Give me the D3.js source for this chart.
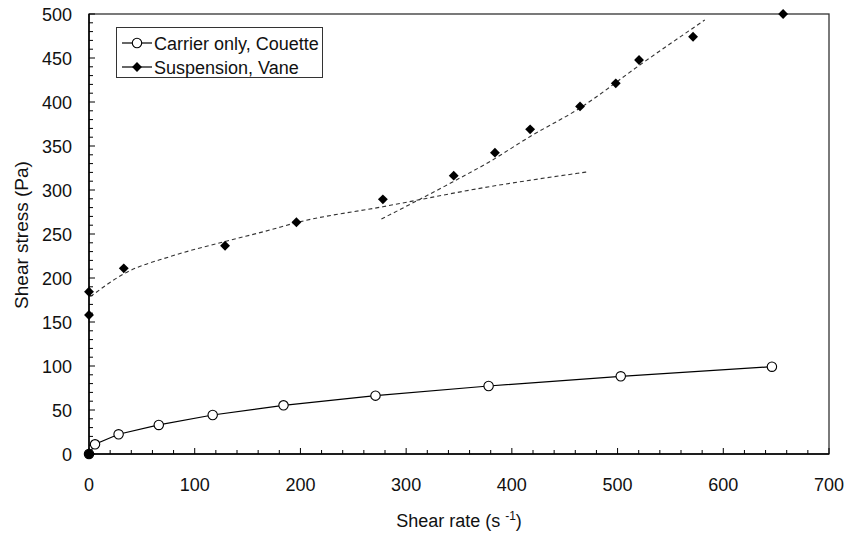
<!DOCTYPE html>
<html>
<head>
<meta charset="utf-8">
<script src="https://cdn.jsdelivr.net/npm/d3@7"></script>
<style>
  body { margin: 0; background: #fff; }
  svg { display: block; font-family: 'Liberation Sans', Arial, sans-serif; }
</style>
</head>
<body>
<div id="chart"></div>
<script>
// values
const carrierRate = [0, 5.7, 28, 66, 117, 184, 271, 378, 503, 646];
const carrierStress = [0, 11, 22.4, 33, 44.3, 55.3, 66.3, 77.3, 88.3, 99.2];

const vaneRate = [0, 0, 0, 32.9, 128.7, 196.2, 278, 345, 384, 417.3, 464.5, 498.3, 520.3, 571.4, 656.6];
const vaneStress = [0, 158, 184.4, 211, 236.7, 263.3, 289.4, 316.3, 342.4, 368.9, 395, 421.2, 447.7, 474.2, 500];

// dashed fitted curves
const lowFitRate = [1.3, 33.8, 76.3, 128.4, 171, 196.2, 278, 379, 473];
const lowFitStress = [178.8, 205.3, 224.2, 241.3, 254.5, 262.9, 281, 303.8, 320.8];
const highFitRate = [276.6, 344.4, 379, 417, 464, 521, 582.5];
const highFitStress = [267, 309.4, 332.2, 360.6, 392.8, 442, 493.2];

const xTicks = [0, 100, 200, 300, 400, 500, 600, 700];
const yTicks = [0, 50, 100, 150, 200, 250, 300, 350, 400, 450, 500];
const legendLabels = ['Carrier only, Couette', 'Suspension, Vane'];

const width = 847,
  height = 537;
const margin = { top: 14, right: 18, bottom: 83, left: 89 };
const fontSize = 18;

const svg = d3
  .select('#chart')
  .append('svg')
  .attr('width', width)
  .attr('height', height);

const x = d3.scaleLinear().domain([0, 700]).range([margin.left, width - margin.right]);
const y = d3.scaleLinear().domain([0, 500]).range([height - margin.bottom, margin.top]);

// plot frame
svg
  .append('rect')
  .attr('x', x(0))
  .attr('y', y(500))
  .attr('width', x(700) - x(0))
  .attr('height', y(0) - y(500))
  .attr('fill', 'none')
  .attr('stroke', '#333')
  .attr('stroke-width', 1.3);

// minor + major ticks pointing inward
const xMinor = d3.range(0, 701, 20);
const yMinor = d3.range(0, 501, 10);

svg
  .append('g')
  .attr('stroke', '#000')
  .selectAll('line')
  .data(xMinor)
  .join('line')
  .attr('x1', (d) => x(d))
  .attr('x2', (d) => x(d))
  .attr('y1', y(0))
  .attr('y2', (d) => y(0) - (d % 100 === 0 ? 6 : 4));

svg
  .append('g')
  .attr('stroke', '#000')
  .selectAll('line')
  .data(yMinor)
  .join('line')
  .attr('x1', x(0))
  .attr('x2', (d) => x(0) + (d % 50 === 0 ? 6 : 4))
  .attr('y1', (d) => y(d))
  .attr('y2', (d) => y(d));

// axis lines
svg
  .append('line')
  .attr('x1', x(0))
  .attr('x2', x(700))
  .attr('y1', y(0))
  .attr('y2', y(0))
  .attr('stroke', '#000')
  .attr('stroke-width', 1.5);
svg
  .append('line')
  .attr('x1', x(0))
  .attr('x2', x(0))
  .attr('y1', y(0))
  .attr('y2', y(500))
  .attr('stroke', '#000')
  .attr('stroke-width', 1.5);

// tick labels
svg
  .append('g')
  .selectAll('text')
  .data(xTicks)
  .join('text')
  .attr('x', (d) => x(d))
  .attr('y', 491)
  .attr('text-anchor', 'middle')
  .attr('font-size', fontSize)
  .attr('fill', '#111')
  .text((d) => d);

svg
  .append('g')
  .selectAll('text')
  .data(yTicks)
  .join('text')
  .attr('x', 72)
  .attr('y', (d) => y(d) + 6.5)
  .attr('text-anchor', 'end')
  .attr('font-size', fontSize)
  .attr('fill', '#111')
  .text((d) => d);

// axis titles
const xTitle = svg
  .append('text')
  .attr('x', (x(0) + x(700)) / 2)
  .attr('y', 527)
  .attr('text-anchor', 'middle')
  .attr('font-size', fontSize)
  .attr('fill', '#111');
xTitle.append('tspan').text('Shear rate (s ');
xTitle.append('tspan').attr('font-size', 12).attr('dy', -7).text('-1');
xTitle.append('tspan').attr('dy', 7).text(')');

svg
  .append('text')
  .attr('transform', `translate(28,${(y(0) + y(500)) / 2 + 1}) rotate(-90)`)
  .attr('text-anchor', 'middle')
  .attr('font-size', 19)
  .attr('fill', '#111')
  .text('Shear stress (Pa)');

// fitted curves
const fitLine = d3
  .line()
  .x((d) => x(d[0]))
  .y((d) => y(d[1]))
  .curve(d3.curveMonotoneX);

[
  d3.zip(lowFitRate, lowFitStress),
  d3.zip(highFitRate, highFitStress),
].forEach((pts) => {
  svg
    .append('path')
    .attr('d', fitLine(pts))
    .attr('fill', 'none')
    .attr('stroke', '#333')
    .attr('stroke-width', 1.1)
    .attr('stroke-dasharray', '4,3');
});

// carrier series
const carrier = d3.zip(carrierRate, carrierStress);
svg
  .append('path')
  .attr('d', d3.line().x((d) => x(d[0])).y((d) => y(d[1]))(carrier))
  .attr('fill', 'none')
  .attr('stroke', '#000')
  .attr('stroke-width', 1.2);

svg
  .append('g')
  .selectAll('circle')
  .data(carrier)
  .join('circle')
  .attr('cx', (d) => x(d[0]))
  .attr('cy', (d) => y(d[1]))
  .attr('r', 4.7)
  .attr('fill', '#fff')
  .attr('stroke', '#000')
  .attr('stroke-width', 1.1);

// suspension series
const diamond = d3.symbol().type(d3.symbolDiamond2).size(62);
const vane = d3.zip(vaneRate, vaneStress);
svg
  .append('g')
  .selectAll('path')
  .data(vane)
  .join('path')
  .attr('transform', (d) => `translate(${x(d[0])},${y(d[1])})`)
  .attr('d', diamond)
  .attr('fill', '#000');
svg
  .append('circle')
  .attr('cx', x(0))
  .attr('cy', y(0))
  .attr('r', 4.7)
  .attr('fill', '#000');

// legend
const lg = svg.append('g');
lg.append('rect')
  .attr('x', 116.5)
  .attr('y', 27.5)
  .attr('width', 206)
  .attr('height', 50)
  .attr('fill', '#fff')
  .attr('stroke', '#333')
  .attr('stroke-width', 1);

legendLabels.forEach((label, i) => {
  const cy = 43 + i * 24;
  lg.append('line')
    .attr('x1', 122)
    .attr('x2', 152)
    .attr('y1', cy)
    .attr('y2', cy)
    .attr('stroke', '#000')
    .attr('stroke-width', 1.2);
  if (i === 0) {
    lg.append('circle')
      .attr('cx', 137)
      .attr('cy', cy)
      .attr('r', 4.7)
      .attr('fill', '#fff')
      .attr('stroke', '#000')
      .attr('stroke-width', 1.1);
  } else {
    lg.append('path')
      .attr('transform', `translate(137,${cy})`)
      .attr('d', diamond)
      .attr('fill', '#000');
  }
  lg.append('text')
    .attr('x', 154)
    .attr('y', cy + 6.5)
    .attr('font-size', fontSize)
    .attr('fill', '#111')
    .text(label);
});
</script>
</body>
</html>
